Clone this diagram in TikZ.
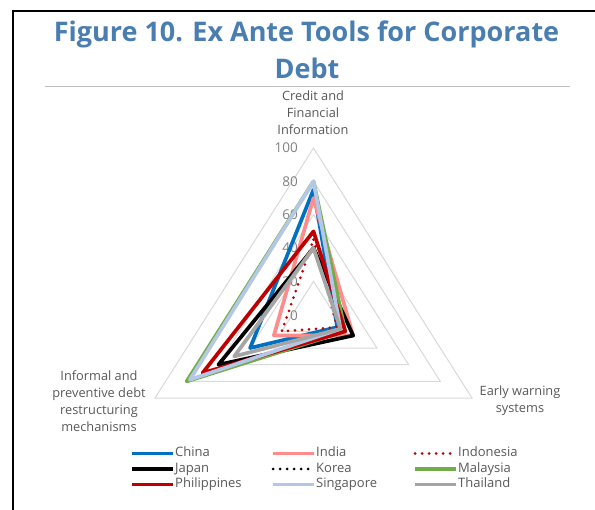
\documentclass[tikz,border=0pt]{standalone}
\usepackage{fontspec}
\setmainfont{Open Sans}
\definecolor{titleblue}{HTML}{4A7EB1}
\definecolor{cChina}{HTML}{0070C0}
\definecolor{cIndia}{HTML}{FF8B8B}
\definecolor{cIndonesia}{HTML}{C00000}
\definecolor{cJapan}{HTML}{000000}
\definecolor{cKorea}{HTML}{000000}
\definecolor{cMalaysia}{HTML}{70AD47}
\definecolor{cPhilippines}{HTML}{C00000}
\definecolor{cSingapore}{HTML}{B4C7E7}
\definecolor{cThailand}{HTML}{A5A5A5}
\definecolor{gridgrey}{HTML}{D9D9D9}
\definecolor{labelgrey}{HTML}{595959}
\definecolor{tickgrey}{HTML}{808080}
\definecolor{sepgrey}{HTML}{BFBFBF}
\tikzset{
  seriesline/.style={line width=3.7pt, line join=round},
  dotline/.style={line width=3pt, line cap=round, dash pattern=on 0pt off 7pt},
  gridline/.style={draw=gridgrey, line width=1pt},
  catlabel/.style={align=center, inner sep=0pt, text=labelgrey, font=\fontsize{12.8}{17.2}\selectfont},
  ticklabel/.style={anchor=east, inner sep=0pt, text=tickgrey, font=\fontsize{13.5}{15}\selectfont},
  legtext/.style={anchor=west, inner sep=0pt, text=labelgrey, text height=9.5pt, text depth=3pt, font=\fontsize{13}{15}\selectfont},
  titletext/.style={anchor=base, inner sep=0pt, text=titleblue, font=\fontsize{27}{32}\selectfont\bfseries}
}
% radar series: #1 style, #2 top value, #3 bottom-right value, #4 bottom-left value
\newcommand{\radarseries}[4]{%
  \draw[#1] (313.5,{314.7-1.6667*#2}) -- ({313.5+1.585*#3},{314.7+0.8333*#3})
     -- ({313.5-1.585*#4},{314.7+0.8333*#4}) -- cycle;}
\begin{document}
\begin{tikzpicture}[x=1pt,y=-1pt]
\useasboundingbox (0,0) rectangle (595,510);
\fill[white] (0,0) rectangle (595,510);
% frame
\draw[line width=2pt] (13,510) -- (13,11) -- (595,11);
% title
\node[titletext] (t1) at (306.5,42) {Figure 10. Ex Ante Tools for Corporate};
\node[titletext] (t2) at (307,78.5) {Debt};
\draw[draw=sepgrey, line width=1pt] (45,86.5) -- (570,86.5);
% grid
\foreach \v in {20,40,60,80,100}{
  \radarseries{gridline}{\v}{\v}{\v}
}
% tick labels
\node[ticklabel] (k100) at (298,147.6) {100};
\node[ticklabel] (k80) at (298,181.4) {80};
\node[ticklabel] (k60) at (298,214.7) {60};
\node[ticklabel] (k40) at (298,248.0) {40};
\node[ticklabel] (k20) at (298,281.4) {20};
\node[ticklabel] (k0) at (298,315.5) {0};
% category labels
\node[catlabel] (cat1) at (313,113) {Credit and\\Financial\\Information};
\node[catlabel] (cat2) at (520,401) {Early warning\\systems};
\node[catlabel] (cat3) at (99,401) {Informal and\\preventive debt\\restructuring\\mechanisms};
% series (drawn in legend order)
\radarseries{seriesline, draw=cChina}{75}{15}{40}
\radarseries{seriesline, draw=cIndia}{70}{25}{25}
\radarseries{dotline, draw=cIndonesia}{45}{15}{20}
\radarseries{seriesline, draw=cJapan}{40}{25}{60}
\radarseries{seriesline, draw=cMalaysia}{80}{20}{80}
\radarseries{seriesline, draw=cPhilippines}{50}{20}{70}
\radarseries{seriesline, draw=cSingapore}{80}{17}{78}
\radarseries{seriesline, draw=cThailand}{40}{17}{50}
% legend
\coordinate (l1a) at (132,453.5); \coordinate (l1b) at (173,453.5);
\coordinate (l2a) at (132,469);   \coordinate (l2b) at (173,469);
\coordinate (l3a) at (132,484.5); \coordinate (l3b) at (173,484.5);
\coordinate (m1a) at (273,453.5); \coordinate (m1b) at (314,453.5);
\coordinate (m2a) at (273,469);   \coordinate (m2b) at (314,469);
\coordinate (m3a) at (273,484.5); \coordinate (m3b) at (314,484.5);
\coordinate (r1a) at (415,453.5); \coordinate (r1b) at (456,453.5);
\coordinate (r2a) at (415,469);   \coordinate (r2b) at (456,469);
\coordinate (r3a) at (415,484.5); \coordinate (r3b) at (456,484.5);
\draw[seriesline, draw=cChina] (l1a) -- (l1b);
\draw[seriesline, draw=cJapan] (l2a) -- (l2b);
\draw[seriesline, draw=cPhilippines] (l3a) -- (l3b);
\draw[seriesline, draw=cIndia] (m1a) -- (m1b);
\draw[dotline, draw=cKorea] (m2a) -- (m2b);
\draw[seriesline, draw=cSingapore] (m3a) -- (m3b);
\draw[dotline, draw=cIndonesia] (r1a) -- (r1b);
\draw[seriesline, draw=cMalaysia] (r2a) -- (r2b);
\draw[seriesline, draw=cThailand] (r3a) -- (r3b);
\node[legtext] (lg1) at ([xshift=2pt]l1b) {China};
\node[legtext] (lg2) at ([xshift=2pt]l2b) {Japan};
\node[legtext] (lg3) at ([xshift=2pt]l3b) {Philippines};
\node[legtext] (lg4) at ([xshift=2pt]m1b) {India};
\node[legtext] (lg5) at ([xshift=2pt]m2b) {Korea};
\node[legtext] (lg6) at ([xshift=2pt]m3b) {Singapore};
\node[legtext] (lg7) at ([xshift=2pt]r1b) {Indonesia};
\node[legtext] (lg8) at ([xshift=2pt]r2b) {Malaysia};
\node[legtext] (lg9) at ([xshift=2pt]r3b) {Thailand};
\end{tikzpicture}
\end{document}
